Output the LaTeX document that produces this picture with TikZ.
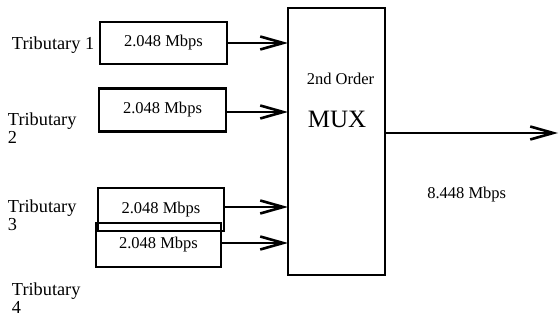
\documentclass[tikz,border=0pt]{standalone}
\usepackage{fontspec}
\setmainfont{Liberation Serif}
\usetikzlibrary{arrows.meta}
\begin{document}
\begin{tikzpicture}[x=1pt,y=-1pt,
  every node/.style={inner sep=0pt, outer sep=0pt},
  lbl/.style={font=\fontsize{18.3}{18}\selectfont, align=left},
  ratebox/.style={draw, line width=2.6pt, minimum width=#1, font=\fontsize{16.5}{18}\selectfont},
  ratebox/.default=127pt,
  feed/.style={line width=2.4pt, -{Straight Barb[length=23pt,width=13pt,line width=2.6pt]}}
]
\useasboundingbox (0,0) rectangle (559,320);

% multiplexer
\node[draw, line width=2.6pt, minimum width=97pt, minimum height=267pt] (mux) at (336.5,141.5) {};
\node[font=\fontsize{16.5}{18}\selectfont, anchor=base] (ord) at (340.5,85) {2nd Order};
\node[font=\fontsize{25}{28}\selectfont, anchor=base] (muxt) at (337,128) {MUX};

% tributary boxes
\node[ratebox=127pt, minimum height=42pt] (b1) at (163.5,43) {2.048 Mbps};
\node[ratebox=127pt, minimum height=43pt] (b2) at (162.5,110) {2.048 Mbps};
\node[ratebox=126pt, minimum height=43pt] (b3) at (161,209.5) {2.048 Mbps};
\node[ratebox=125pt, minimum height=44pt] (b4) at (158.5,245) {2.048 Mbps};

% tributary labels
\node[lbl, anchor=base west] (t1) at (12,50) {Tributary 1};
\node[lbl, anchor=north west] (t2) at (8,112.5) {Tributary\\2};
\node[lbl, anchor=north west] (t3) at (8,199.5) {Tributary\\3};
\node[lbl, anchor=north west] (t4) at (12,282.5) {Tributary\\4};

% feeds
\draw[feed] (b1.east) -- (b1.east -| mux.west);
\draw[feed] ([yshift=-2pt]b2.east) -- ([yshift=-2pt]b2.east -| mux.west);
\draw[feed] ([yshift=2.5pt]b3.east) -- ([yshift=2.5pt]b3.east -| mux.west);
\draw[feed] ([yshift=2pt]b4.east) -- ([yshift=2pt]b4.east -| mux.west);

% output
\coordinate (out) at (558,133);
\draw[feed] (out -| mux.east) -- (out);
\node[font=\fontsize{16.5}{18}\selectfont, anchor=base] (rate) at (466.7,199) {8.448 Mbps};
\end{tikzpicture}
\end{document}
